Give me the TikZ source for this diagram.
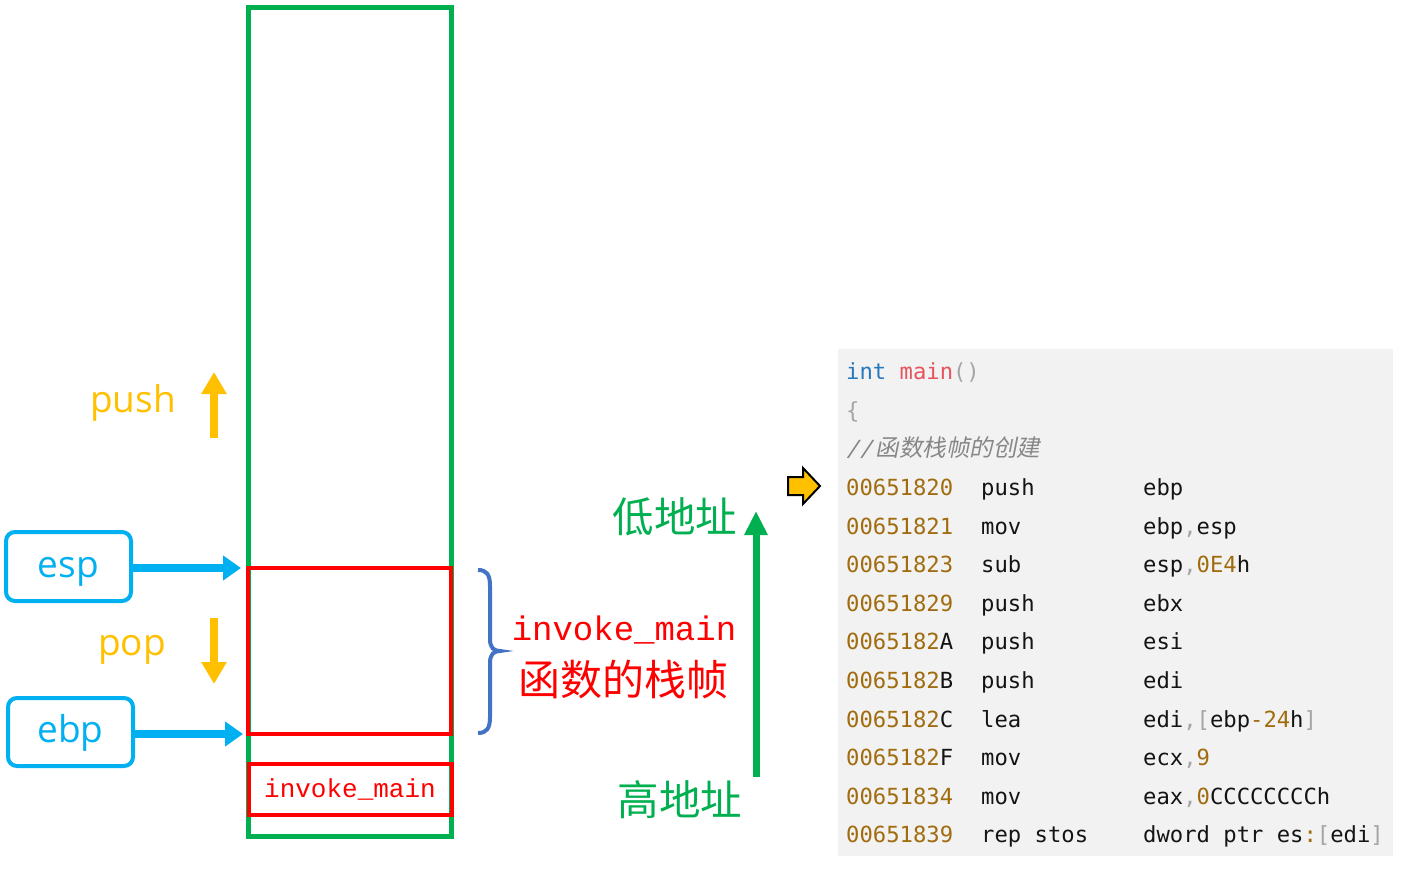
\documentclass[tikz,border=0pt]{standalone}
\usepackage{fontspec}
\usetikzlibrary{arrows.meta}
\setmainfont{Liberation Sans}
\newfontfamily\cjk{Noto Sans CJK SC}
\newfontfamily\cjkit[FakeSlant=0.2]{Noto Sans CJK SC}
\newfontfamily\codefont{DejaVu Sans Mono}
\newfontfamily\codeit[FakeSlant=0.2]{DejaVu Sans Mono}
\newfontfamily\redmono{Liberation Mono}
\newfontfamily\labelsans{Open Sans}
\definecolor{stackgreen}{RGB}{0,176,80}
\definecolor{framered}{RGB}{255,0,0}
\definecolor{ptrcyan}{RGB}{0,176,240}
\definecolor{opyellow}{RGB}{255,192,0}
\definecolor{braceblue}{RGB}{68,114,196}
\definecolor{codebg}{RGB}{242,242,242}
\definecolor{addrc}{RGB}{160,108,14}
\definecolor{kwc}{RGB}{40,120,190}
\definecolor{fnc}{RGB}{230,85,95}
\definecolor{punc}{RGB}{165,165,165}
\definecolor{cmtc}{RGB}{135,135,135}
\definecolor{txtc}{RGB}{20,20,20}
\tikzset{
  ptrbox/.style={draw=ptrcyan, line width=4pt, rounded corners=9pt, text=ptrcyan,
    font=\labelsans\fontsize{37}{40}\selectfont, inner sep=0pt, text height=21pt, text depth=0pt},
  ptrarrow/.style={draw=ptrcyan, line width=8pt, -{Triangle[length=18pt,width=24pt]}},
  oparrow/.style={draw=opyellow, line width=8pt, -{Triangle[length=22pt,width=24pt]}},
  optext/.style={text=opyellow, font=\labelsans\fontsize{37}{40}\selectfont, anchor=base, inner sep=0pt},
  cjklabel/.style={font=\cjk\fontsize{41.5}{45}\selectfont},
  codeline/.style={anchor=base west, inner sep=0pt, text=txtc, font=\codefont\fontsize{22.2}{26}\selectfont},
}
\newcommand{\ad}[1]{\textcolor{addrc}{#1}}
\newcommand{\pu}[1]{\textcolor{punc}{#1}}
\begin{document}
\begin{tikzpicture}[x=1pt,y=-1pt]
\useasboundingbox[fill=white] (0,0) rectangle (1401,891);
% stack
\draw[stackgreen, line width=5pt] (248,8) rectangle (451,836);
\node[draw=framered, line width=4pt, minimum width=203pt, minimum height=166pt, inner sep=0pt] (frame) at (349.5,651) {};
\node[draw=framered, line width=4pt, minimum width=203pt, minimum height=51pt, inner sep=0pt,
  text=framered, font=\redmono\fontsize{26}{28}\selectfont] (caller) at (350,789.5) {invoke\_main};
% pointer boxes
\node[ptrbox, minimum width=125pt, minimum height=69pt] (esp) at (68.5,566.5) {esp};
\node[ptrbox, minimum width=125pt, minimum height=68pt] (ebp) at (70.5,732) {ebp};
\coordinate (esptip) at (241,568);
\coordinate (ebptip) at (243,734);
\draw[ptrarrow] (esp.east |- esptip) -- (esptip);
\draw[ptrarrow] (ebp.east |- ebptip) -- (ebptip);
% push / pop
\node[optext] (push) at (133,412) {push};
\coordinate (pushtail) at (214,438);
\coordinate (pushtip) at (214,372);
\draw[oparrow] (pushtail) -- (pushtip);
\node[optext] (pop) at (132,655) {pop};
\coordinate (poptail) at (214,618);
\coordinate (poptip) at (214,684);
\draw[oparrow] (poptail) -- (poptip);
% brace
\draw[braceblue, line width=4pt] (478,570) .. controls (487,570) and (490,575) .. (490,586) -- (490,639)
  .. controls (490,648) and (494,651) .. (500,651) .. controls (494,651) and (490,654) .. (490,663)
  -- (490,717) .. controls (490,728) and (487,733) .. (478,733);
\node[text=framered, font=\redmono\fontsize{34}{38}\selectfont] (fname) at (624,630) {invoke\_main};
\node[text=framered, cjklabel, font=\cjk\fontsize{42}{45}\selectfont] (fdesc) at (623,680) {函数的栈帧};
% address arrow
\coordinate (addrlow) at (756,511);
\coordinate (addrhigh) at (756,777);
\draw[stackgreen, line width=7pt, -{Triangle[length=24pt,width=22pt]}] (addrhigh) -- (addrlow);
\node[text=stackgreen, cjklabel] (low) at (675,517) {低地址};
\node[text=stackgreen, cjklabel] (high) at (680,800) {高地址};
% current instruction marker
\draw[fill=opyellow, draw=black, line width=2pt, line join=miter]
  (788,477) -- (803,477) -- (803,468) -- (820,486) -- (803,504) -- (803,495) -- (788,495) -- cycle;
% code
\fill[codebg] (838,349) rectangle (1393,856);
\node[codeline] (l1) at (846,379) {\textcolor{kwc}{int} \textcolor{fnc}{main}\pu{()}};
\node[codeline] (l2) at (846,418) {\pu{\{}};
\node[codeline, text=cmtc] (l3) at (846,456) {\codeit //\hspace{3pt}\cjkit\fontsize{23.5}{26}\selectfont 函数栈帧的创建};
\foreach \y/\a/\b/\m/\o in {
  495/0065182/0/push/ebp,
  534/0065182/1/mov/{ebp\pu{,}esp},
  572/0065182/3/sub/{esp\pu{,}\ad{0E4}h},
  611/0065182/9/push/ebx,
  649/0065182/\textcolor{txtc}{A}/push/esi,
  688/0065182/\textcolor{txtc}{B}/push/edi,
  727/0065182/\textcolor{txtc}{C}/lea/{edi\pu{,[}ebp\ad{-24}h\pu{]}},
  765/0065182/\textcolor{txtc}{F}/mov/{ecx\pu{,}\ad{9}},
  804/0065183/4/mov/{eax\pu{,}\ad{0}CCCCCCCCh},
  842/0065183/9/rep stos/{dword ptr es\ad{:}\pu{[}edi\pu{]}}} {
  \node[codeline] at (846,\y) {\ad{\a\b}};
  \node[codeline] at (981,\y) {\m};
  \node[codeline] at (1143,\y) {\o};
}
\end{tikzpicture}
\end{document}
